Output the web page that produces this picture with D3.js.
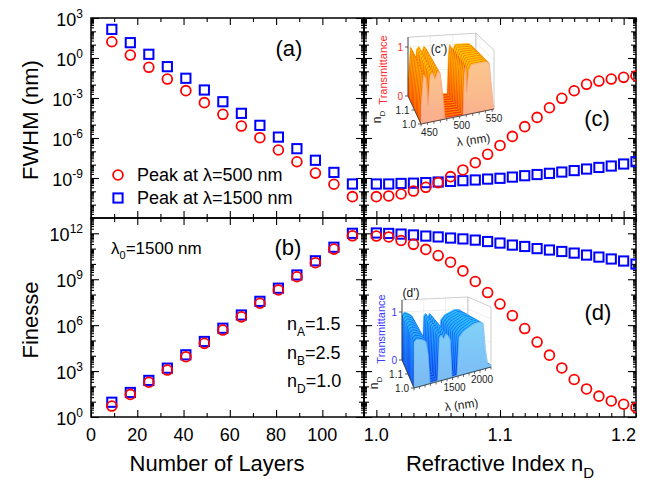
<!DOCTYPE html>
<html>
<head>
<meta charset="utf-8">
<script src="https://cdn.jsdelivr.net/npm/d3@7"></script>
<style>
  body { margin: 0; background: #fff; }
  svg { display: block; }
  text { font-family: "Liberation Sans", Arial, sans-serif; }
</style>
</head>
<body>
<svg id="chart" width="658" height="480"></svg>
<script>
// ---- Data ----------------------------------------------------------------
// Number of layers in the stack (panels a, b)
const layers = [9, 17, 25, 33, 41, 49, 57, 65, 73, 81, 89, 97, 105, 113];
// FWHM (nm) vs number of layers
const fwhm500 = [16.6, 1.66, 0.20, 0.0263, 3.55e-3, 4.47e-4, 6.0e-5, 7.9e-6, 1.05e-6, 1.26e-7, 1.66e-8, 2.34e-9, 3.39e-10, 3.98e-11];
const fwhm1500 = [141, 14.1, 1.9, 0.224, 0.0302, 3.98e-3, 5.25e-4, 7.08e-5, 8.91e-6, 1.17e-6, 1.58e-7, 2.14e-8, 2.63e-9, 3.55e-10];
// Finesse vs number of layers
const fin500 = [5.2, 30, 186, 1.17e3, 8.7e3, 6.5e4, 4.8e5, 3.5e6, 2.7e7, 2.0e8, 1.45e9, 1.2e10, 9.3e10, 6.9e11];
const fin1500 = [9.2, 40, 245, 1.55e3, 1.15e4, 8.6e4, 6.3e5, 4.6e6, 3.6e7, 2.6e8, 1.9e9, 1.6e10, 1.23e11, 1.0e12];

// Refractive index of the defect layer (panels c, d)
const nD = [1.00, 1.01, 1.02, 1.03, 1.04, 1.05, 1.06, 1.07, 1.08, 1.09, 1.10, 1.11,
            1.12, 1.13, 1.14, 1.15, 1.16, 1.17, 1.18, 1.19, 1.20, 1.21];
// FWHM (nm) vs n_D
const fwhmN500 = [4.0e-11, 4.5e-11, 6.3e-11, 1.05e-10, 2.0e-10, 4.5e-10, 1.26e-9, 4.0e-9, 1.41e-8, 6.0e-8, 2.75e-7,
                  1.32e-6, 7.1e-6, 3.5e-5, 1.86e-4, 9.5e-4, 3.5e-3, 0.0107, 0.0186, 0.0263, 0.0355, 0.0468];
const fwhmN1500 = [3.55e-10, 3.55e-10, 3.9e-10, 4.1e-10, 4.5e-10, 5.0e-10, 5.6e-10, 6.3e-10, 7.1e-10, 8.3e-10, 9.5e-10,
                   1.17e-9, 1.48e-9, 1.82e-9, 2.24e-9, 2.8e-9, 3.6e-9, 4.7e-9, 6.2e-9, 7.9e-9, 1.12e-8, 1.66e-8];
// Finesse vs n_D
const finN500 = [6.6e11, 5.8e11, 3.4e11, 1.9e11, 8.9e10, 3.5e10, 1.3e10, 3.5e9, 7.1e8, 1.35e8, 2.4e7,
                 4.2e6, 6.0e5, 7.9e4, 1.1e4, 1.6e3, 282, 68, 23, 11.2, 6.8, 4.2];
const finN1500 = [1.05e12, 9.8e11, 8.9e11, 7.8e11, 6.6e11, 5.8e11, 4.9e11, 4.3e11, 3.6e11, 2.9e11, 2.3e11,
                  1.7e11, 1.38e11, 1.0e11, 8.1e10, 6.5e10, 5.1e10, 3.8e10, 2.8e10, 2.1e10, 1.55e10, 9.8e9];

// Transmission spectra shown in the insets (one profile per n_D slice)
const lamC = [440, 444, 448, 451, 454, 458, 462, 466, 470, 474, 477, 505, 507, 509, 511, 514, 518, 524, 530, 540, 546, 549, 552, 553];
const transC = [0.35, 1.0, 0.9, 0.35, 0.95, 1.0, 0.85, 1.0, 0.95, 0.5, 0.02, 0, 0.8, 1.0, 0.45, 0.9, 1.0, 1.0, 1.0, 1.0, 0.95, 0.5, 0.1, 0.05];
const lamD = [800, 850, 900, 960, 1020, 1060, 1090, 1230, 1260, 1300, 1340, 1380, 1420, 1460, 1490, 1580, 1620, 1700, 1800, 1900, 2000, 2060, 2100, 2140, 2200];
const transD = [0.95, 1.0, 0.98, 0.95, 0.9, 0.6, 0.02, 0.02, 0.9, 0.95, 0.85, 0.95, 0.9, 0.8, 0.02, 0.02, 0.8, 0.9, 0.95, 1.0, 1.0, 0.95, 0.4, 0.08, 0.05];

// Tick labels
const layerTicks = [0, 20, 40, 60, 80, 100];
const nTicks = [1.0, 1.1, 1.2];
const fwhmTickExp = [3, 0, -3, -6, -9];
const finTickExp = [0, 3, 6, 9, 12];

// ---- Layout --------------------------------------------------------------
const svg = d3.select("#chart");
const X0 = 91, XM = 364, X1 = 636, Y0 = 18, YM = 218, Y1 = 417;

const xL = d3.scaleLinear().domain([0, 118]).range([X0, XM]);
const xR = d3.scaleLinear().domain([0.99, 1.21]).range([XM, X1]);
const yF = d3.scaleLog().domain([1e-12, 1e3]).range([YM, Y0]);
const yQ = d3.scaleLog().domain([1, 1e13]).range([Y1, YM]);

const RED = "#ff0000", BLUE = "#0000ff";

const defs = svg.append("defs");

// ---- Tick helpers --------------------------------------------------------
function logTicks(scale) {
  const [a, b] = scale.domain().map(Math.log10);
  const major = [], minor = [];
  for (let k = Math.round(a); k <= Math.round(b); k++) {
    major.push(Math.pow(10, k));
    if (k < Math.round(b)) for (let m = 2; m <= 9; m++) minor.push(m * Math.pow(10, k));
  }
  return { major, minor };
}
function ticksY(scale, x, inwardRight, vals, len) {
  const ax = (inwardRight ? d3.axisLeft(scale) : d3.axisRight(scale))
    .tickValues(vals).tickSize(-len).tickFormat("");
  svg.append("g").attr("transform", `translate(${x},0)`).call(ax)
    .call(g => g.select(".domain").remove())
    .selectAll("line").attr("stroke", "#000").attr("stroke-width", 1.1);
}
function ticksX(scale, y, inwardDown, vals, len) {
  const ax = (inwardDown ? d3.axisTop(scale) : d3.axisBottom(scale))
    .tickValues(vals).tickSize(-len).tickFormat("");
  svg.append("g").attr("transform", `translate(0,${y})`).call(ax)
    .call(g => g.select(".domain").remove())
    .selectAll("line").attr("stroke", "#000").attr("stroke-width", 1.1);
}
function yTickSet(scale, x, inwardRight, labelledExp) {
  const { major, minor } = logTicks(scale);
  const lab = major.filter(v => labelledExp.includes(Math.round(Math.log10(v))));
  const dec = major.filter(v => !lab.includes(v));
  ticksY(scale, x, inwardRight, minor, 3);
  ticksY(scale, x, inwardRight, dec, 5);
  ticksY(scale, x, inwardRight, lab, 8);
}

// Left-panel and right-panel x tick values
const xLMajor = d3.range(0, 119, 20);
const xLMinor = d3.range(10, 119, 20);
const xRAll = d3.range(99, 122).map(v => v / 100);
const xRMajor = xRAll.filter(v => Math.abs(v * 10 - Math.round(v * 10)) < 1e-6);
const xRMinor = xRAll.filter(v => !xRMajor.includes(v));

// Each panel: x edge ticks
[[xL, xLMajor, xLMinor], [xR, xRMajor, xRMinor]].forEach(([sc, maj, mn]) => {
  ticksX(sc, Y0, true, mn, 4); ticksX(sc, Y0, true, maj, 7);
  ticksX(sc, YM, false, mn, 4); ticksX(sc, YM, false, maj, 7);
  ticksX(sc, YM, true, mn, 4); ticksX(sc, YM, true, maj, 7);
  ticksX(sc, Y1, false, mn, 4); ticksX(sc, Y1, false, maj, 7);
});
// Each panel: y edge ticks
[[yF, fwhmTickExp], [yQ, finTickExp]].forEach(([sc, ex]) => {
  yTickSet(sc, X0, true, ex);
  yTickSet(sc, XM, false, ex);
  yTickSet(sc, XM, true, ex);
  yTickSet(sc, X1, false, ex);
});

// Panel frames
[[X0, Y0, XM, YM], [XM, Y0, X1, YM], [X0, YM, XM, Y1], [XM, YM, X1, Y1]].forEach(([a, b, c, d]) => {
  svg.append("rect").attr("x", a).attr("y", b).attr("width", c - a).attr("height", d - b)
    .attr("fill", "none").attr("stroke", "#000").attr("stroke-width", 1.5);
});

// ---- Tick labels ---------------------------------------------------------
function powLabel(x, y, exp) {
  const t = svg.append("text").attr("x", x).attr("y", y).attr("text-anchor", "end")
    .attr("font-size", 18).attr("fill", "#000");
  t.append("tspan").text("10");
  t.append("tspan").attr("dy", -8).attr("font-size", 12).text(String(exp));
}
fwhmTickExp.forEach(e => powLabel(83, yF(Math.pow(10, e)) + 8, e));
finTickExp.forEach(e => powLabel(83, yQ(Math.pow(10, e)) + 8, e));

svg.selectAll(".xlabL").data(layerTicks).join("text")
  .attr("x", d => xL(d)).attr("y", 441).attr("text-anchor", "middle")
  .attr("font-size", 18).text(d => d);
svg.selectAll(".xlabR").data(nTicks).join("text")
  .attr("x", d => xR(d)).attr("y", 441).attr("text-anchor", "middle")
  .attr("font-size", 18).text(d => d.toFixed(1));

// Axis titles
svg.append("text").attr("x", 217).attr("y", 471).attr("text-anchor", "middle")
  .attr("font-size", 22).text("Number of Layers");
const rt = svg.append("text").attr("x", 500).attr("y", 471).attr("text-anchor", "middle").attr("font-size", 22);
rt.append("tspan").text("Refractive Index n");
rt.append("tspan").attr("dy", 7).attr("font-size", 15).text("D");
svg.append("text").attr("transform", "translate(38,120) rotate(-90)").attr("text-anchor", "middle")
  .attr("font-size", 22).text("FWHM (nm)");
svg.append("text").attr("transform", "translate(38,320) rotate(-90)").attr("text-anchor", "middle")
  .attr("font-size", 22).text("Finesse");

// Panel letters
[["(a)", 289, 56], ["(b)", 288, 255], ["(c)", 597, 126], ["(d)", 598, 320]].forEach(([s, x, y]) => {
  svg.append("text").attr("x", x).attr("y", y).attr("text-anchor", "middle").attr("font-size", 22).text(s);
});

// Annotations in panel (b)
const lam0 = svg.append("text").attr("x", 111).attr("y", 254).attr("font-size", 17);
lam0.append("tspan").text("λ");
lam0.append("tspan").attr("dy", 5).attr("font-size", 11).text("0");
lam0.append("tspan").attr("dy", -5).text("=1500 nm");
[["A", "=1.5", 330], ["B", "=2.5", 358.5], ["D", "=1.0", 387]].forEach(([s, v, y]) => {
  const t = svg.append("text").attr("x", 287).attr("y", y).attr("font-size", 18);
  t.append("tspan").text("n");
  t.append("tspan").attr("dy", 6).attr("font-size", 12).text(s);
  t.append("tspan").attr("dy", -6).text(v);
});

// ---- Insets: stacked transmission spectra --------------------------------
function drawInset(cfg) {
  const g = svg.append("g");
  const u = d3.scaleLinear().domain(cfg.lamDomain).range([0, 1]);
  const dep = d3.scaleLinear().domain([1.0, 1.2]).range([0, 1]);
  const P = (uu, vv, t) => {
    const fx = cfg.f0[0] + (cfg.f1[0] - cfg.f0[0]) * uu, fy = cfg.f0[1] + (cfg.f1[1] - cfg.f0[1]) * uu;
    const bx = cfg.b0[0] + (cfg.b1[0] - cfg.b0[0]) * uu, by = cfg.b0[1] + (cfg.b1[1] - cfg.b0[1]) * uu;
    return [fx * (1 - vv) + bx * vv, fy * (1 - vv) + by * vv - t * cfg.tPx];
  };
  const line = d3.line();
  const T = cfg.tTop;
  // back and side walls with light grid
  const wallStroke = "#b8b8b8";
  [[P(0,1,0), P(1,1,0), P(1,1,T), P(0,1,T)], [P(1,1,0), P(1,0,0), P(1,0,T), P(1,1,T)]].forEach(q => {
    g.append("path").attr("d", line(q) + "Z").attr("fill", "#fff").attr("stroke", wallStroke).attr("stroke-width", 0.7);
  });
  [0.5, 1].forEach(t => {
    g.append("path").attr("d", line([P(0,1,t), P(1,1,t), P(1,0,t)])).attr("fill", "none").attr("stroke", "#e2e2e2").attr("stroke-width", 0.6);
  });
  [0.33, 0.66].forEach(uu => {
    g.append("path").attr("d", line([P(uu,1,0), P(uu,1,T)])).attr("fill", "none").attr("stroke", "#e2e2e2").attr("stroke-width", 0.6);
  });
  // floor
  g.append("path").attr("d", line([P(0,0,0), P(1,0,0), P(1,1,0), P(0,1,0)]) + "Z")
    .attr("fill", cfg.floor).attr("stroke", "none");
  // gradient for slices
  const gid = "grad" + cfg.key;
  const gr = defs.append("linearGradient").attr("id", gid).attr("x1", 0).attr("y1", 0).attr("x2", 0).attr("y2", 1);
  cfg.stops.forEach(([o, c]) => gr.append("stop").attr("offset", o).attr("stop-color", c));
  // slices from back to front
  const slices = nD.filter(n => n <= 1.2 + 1e-9).slice().reverse();
  slices.forEach((n, i) => {
    const vv = dep(n);
    const pts = cfg.lam.map((l, j) => P(u(l), vv, cfg.trans[j]));
    pts.push(P(u(cfg.lam[cfg.lam.length - 1]), vv, 0));
    pts.push(P(u(cfg.lam[0]), vv, 0));
    const front = i === slices.length - 1;
    g.append("path").attr("d", line(pts) + "Z")
      .attr("fill", front ? cfg.face : `url(#${gid})`)
      .attr("fill-opacity", front ? 0.85 : 1)
      .attr("stroke", front ? cfg.faceStroke : (i % 2 ? cfg.lineColor : cfg.lineColor2))
      .attr("stroke-width", front ? 0.6 : 0.55)
      .attr("stroke-linejoin", "round");
  });
  // axes of the inset
  const ax = "#333";
  g.append("path").attr("d", line([P(0,1,0), P(0,1,T)])).attr("stroke", ax).attr("stroke-width", 0.8).attr("fill", "none");
  g.append("path").attr("d", line([P(0,0,0), P(0,1,0)])).attr("stroke", ax).attr("stroke-width", 0.8).attr("fill", "none");
  g.append("path").attr("d", line([P(0,0,0), P(1,0,0)])).attr("stroke", ax).attr("stroke-width", 0.8).attr("fill", "none");
  [0, 1].forEach(t => {
    const p = P(0, 1, t);
    g.append("path").attr("d", line([[p[0] - 3, p[1]], p])).attr("stroke", ax).attr("stroke-width", 0.8);
    g.append("text").attr("x", p[0] - 5).attr("y", p[1] + 3.5).attr("text-anchor", "end")
      .attr("font-size", 10).attr("fill", cfg.accent).text(t);
  });
  [1.0, 1.1].forEach(n => {
    const p = P(0, dep(n), 0);
    g.append("path").attr("d", line([[p[0] - 3, p[1]], p])).attr("stroke", ax).attr("stroke-width", 0.8);
    g.append("text").attr("x", p[0] - 5).attr("y", p[1] + 3.5).attr("text-anchor", "end")
      .attr("font-size", 10).attr("fill", "#222").text(n.toFixed(1));
  });
  d3.range(cfg.lamDomain[0], cfg.lamDomain[1] + 1, cfg.lamMinor)
    .filter(l => l >= cfg.lamDomain[0] && l <= cfg.lamDomain[1]).forEach(l => {
      const p = P(u(l), 0, 0);
      g.append("path").attr("d", line([p, [p[0], p[1] + 2.5]])).attr("stroke", ax).attr("stroke-width", 0.7);
    });
  cfg.lamTicks.forEach(l => {
    const p = P(u(l), 0, 0);
    g.append("text").attr("x", p[0] + cfg.lamDx).attr("y", p[1] + 13).attr("text-anchor", "middle")
      .attr("font-size", 10).attr("fill", "#222").text(l);
  });
  // titles
  g.append("text").attr("transform", `translate(${cfg.transX},${cfg.transY}) rotate(-90)`)
    .attr("text-anchor", "middle").attr("font-size", 11).attr("fill", cfg.accent).text("Transmittance");
  const nt = g.append("text").attr("transform", `translate(${cfg.nX},${cfg.nY}) rotate(-90)`)
    .attr("text-anchor", "middle").attr("font-size", 12).attr("fill", "#222");
  nt.append("tspan").text("n");
  nt.append("tspan").attr("dy", 4).attr("font-size", 8).text("D");
  g.append("text").attr("transform", `translate(${cfg.lX},${cfg.lY}) rotate(-8)`)
    .attr("text-anchor", "middle").attr("font-size", 12).attr("fill", "#222").text("λ (nm)");
  g.append("text").attr("x", cfg.tagX).attr("y", cfg.tagY).attr("text-anchor", "middle")
    .attr("font-size", 12).attr("fill", "#111").text(cfg.tag);
}

drawInset({
  key: "c", f0: [421, 124], f1: [494, 109], b0: [408, 96], b1: [476, 92], tPx: 49, tTop: 1.2,
  lamDomain: [440, 553], lam: lamC, trans: transC, lamTicks: [450, 500, 550], lamMinor: 10, lamDx: 2,
  floor: "#ff2a00", face: "#f9c3a6", faceStroke: "#f2a688", lineColor: "#f04000", lineColor2: "#ffb000",
  stops: [[0, "#ffd800"], [0.45, "#ff9a00"], [1, "#ff3000"]],
  accent: "#ff2a2a", transX: 387, transY: 70, nX: 381, nY: 117, lX: 474, lY: 144,
  tag: "(c')", tagX: 439, tagY: 53
});
drawInset({
  key: "d", f0: [414, 388], f1: [491, 367], b0: [402, 360], b1: [468, 357], tPx: 48, tTop: 1.25,
  lamDomain: [800, 2200], lam: lamD, trans: transD, lamTicks: [1500, 2000], lamMinor: 100, lamDx: 2,
  floor: "#1d3fd8", face: "#8fd2f6", faceStroke: "#6cb8ea", lineColor: "#0a3cf0", lineColor2: "#30b8ff",
  stops: [[0, "#2fd0ff"], [0.5, "#1a78ff"], [1, "#0a2ee0"]],
  accent: "#3a3aff", transX: 385, transY: 329, nX: 378, nY: 383, lX: 462, lY: 409,
  tag: "(d')", tagX: 411, tagY: 297
});

// ---- Data markers ---------------------------------------------------------
function clip(id, a, b, c, d) {
  defs.append("clipPath").attr("id", id).append("rect")
    .attr("x", a).attr("y", b).attr("width", c - a).attr("height", d - b);
  return `url(#${id})`;
}
function squares(xs, ys, xsc, ysc, cp) {
  svg.append("g").attr("clip-path", cp).selectAll("rect").data(xs.map((x, i) => [x, ys[i]])).join("rect")
    .attr("x", d => xsc(d[0]) - 4.6).attr("y", d => ysc(d[1]) - 4.6)
    .attr("width", 9.2).attr("height", 9.2)
    .attr("fill", "none").attr("stroke", BLUE).attr("stroke-width", 2);
}
function circles(xs, ys, xsc, ysc, cp) {
  svg.append("g").attr("clip-path", cp).selectAll("circle").data(xs.map((x, i) => [x, ys[i]])).join("circle")
    .attr("cx", d => xsc(d[0])).attr("cy", d => ysc(d[1])).attr("r", 4.9)
    .attr("fill", "#fff").attr("fill-opacity", 0).attr("stroke", RED).attr("stroke-width", 1.8);
}
const cpA = clip("cpA", X0, Y0, XM, YM), cpB = clip("cpB", X0, YM, XM, Y1);
const cpC = clip("cpC", XM, Y0, X1, YM), cpD = clip("cpD", XM, YM, X1, Y1);

squares(layers, fwhm1500, xL, yF, cpA); circles(layers, fwhm500, xL, yF, cpA);
squares(layers, fin1500, xL, yQ, cpB); circles(layers, fin500, xL, yQ, cpB);
squares(nD, fwhmN1500, xR, yF, cpC); circles(nD, fwhmN500, xR, yF, cpC);
squares(nD, finN1500, xR, yQ, cpD); circles(nD, finN500, xR, yQ, cpD);

// Legend in panel (a)
svg.append("circle").attr("cx", 118).attr("cy", 175).attr("r", 4.9)
  .attr("fill", "none").attr("stroke", RED).attr("stroke-width", 1.8);
svg.append("text").attr("x", 137).attr("y", 181).attr("font-size", 18).text("Peak at λ=500 nm");
svg.append("rect").attr("x", 118 - 4.6).attr("y", 198 - 4.6).attr("width", 9.2).attr("height", 9.2)
  .attr("fill", "none").attr("stroke", BLUE).attr("stroke-width", 2);
svg.append("text").attr("x", 137).attr("y", 204).attr("font-size", 18).text("Peak at λ=1500 nm");
</script>
</body>
</html>
